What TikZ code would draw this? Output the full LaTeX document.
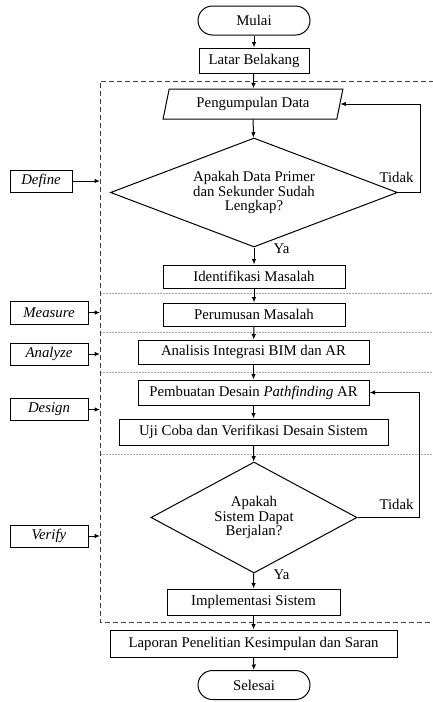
\documentclass[tikz,border=0pt]{standalone}
\usepackage{fontspec}
\setmainfont{Liberation Serif}
\usetikzlibrary{shapes.geometric,arrows.meta}
\begin{document}
\begin{tikzpicture}[x=1pt,y=-1pt,
  font=\fontsize{14.8}{14.5}\selectfont,
  box/.style={draw, line width=1pt, inner sep=0pt, align=center},
  term/.style={box, rounded corners=14.5pt, minimum width=112pt, minimum height=29pt},
  side/.style={box, minimum height=22pt, font=\fontsize{14.8}{14.5}\selectfont\itshape},
  dec/.style={draw, line width=1pt, diamond, inner sep=0pt, align=center},
  arr/.style={-{Latex[length=5.5pt,width=4.5pt]}, line width=1pt},
  sep/.style={gray!70, line width=0.7pt, dash pattern=on 1.6pt off 1.4pt},
  lab/.style={inner sep=0pt}]
\useasboundingbox (0,0) rectangle (432,702);

% phase separators
\coordinate (s1a) at (100,293); \coordinate (s1b) at (432,293);
\coordinate (s2a) at (100,332); \coordinate (s2b) at (432,332);
\coordinate (s3a) at (100,372); \coordinate (s3b) at (432,372);
\coordinate (s4a) at (100,454); \coordinate (s4b) at (432,454);
\draw[sep] (s1a) -- (s1b);
\draw[sep] (s2a) -- (s2b);
\draw[sep] (s3a) -- (s3b);
\draw[sep] (s4a) -- (s4b);

% outer dashed frame (its right side lies beyond the picture)
\coordinate (fTR) at (434,81); \coordinate (fTL) at (100,81);
\coordinate (fBL) at (100,622); \coordinate (fBR) at (434,622);
\draw[black!75, line width=1pt, dash pattern=on 5pt off 3pt] (fTR) -- (fTL) -- (fBL) -- (fBR);

% main flow
\node[term] (mulai) at (254,20.5) {Mulai};
\node[box, minimum width=110pt, minimum height=25pt] (lb) at (254,60.5) {Latar Belakang};
\node[draw, line width=1pt, trapezium, trapezium left angle=73, trapezium right angle=107,
      trapezium stretches=true, minimum width=180pt, minimum height=30pt, inner sep=0pt] (pd) at (253,104) {Pengumpulan Data};
\node[dec, aspect=2.63, minimum width=287pt, minimum height=109pt] (d1) at (254,192.5)
  {Apakah Data Primer\\dan Sekunder Sudah\\Lengkap?};
\node[box, minimum width=182pt, minimum height=23pt] (im) at (254,276.5) {Identifikasi Masalah};
\node[box, minimum width=182pt, minimum height=23pt] (pm) at (254,314.5) {Perumusan Masalah};
\node[box, minimum width=231pt, minimum height=24pt] (an) at (253.5,352) {Analisis Integrasi BIM dan AR};
\node[box, minimum width=231pt, minimum height=25pt] (pb) at (253.5,392.5) {Pembuatan Desain \textit{Pathfinding} AR};
\node[box, minimum width=269pt, minimum height=26pt] (uj) at (253.5,432) {Uji Coba dan Verifikasi Desain Sistem};
\node[dec, aspect=1.86, minimum width=206pt, minimum height=111pt] (d2) at (254,517.5)
  {Apakah\\Sistem Dapat\\Berjalan?};
\node[box, minimum width=173pt, minimum height=26pt] (is) at (253.5,602) {Implementasi Sistem};
\node[box, minimum width=287pt, minimum height=27pt] (lp) at (253.5,643.5) {Laporan Penelitian Kesimpulan dan Saran};
\node[term] (sel) at (254,685) {Selesai};

\draw[arr] (mulai) -- (lb);
\draw[arr] (lb) -- (pd);
\draw[arr] (pd) -- (d1);
\draw[arr] (d1) -- (im);
\draw[arr] (im) -- (pm);
\draw[arr] (pm) -- (an);
\draw[arr] (an) -- (pb);
\draw[arr] (pb) -- (uj);
\draw[arr] (uj) -- (d2);
\draw[arr] (d2) -- (is);
\draw[arr] (is) -- (lp);
\draw[arr] (lp) -- (sel);

% feedback loops
\draw[arr] (d1.east) -- ++(22,0) |- (pd.east);
\draw[arr] (d2.east) -- ++(62,0) |- (pb.east);

% branch labels
\node[lab] (t1) at (396.5,177) {Tidak};
\node[lab] (y1) at (281.5,249) {Ya};
\node[lab] (t2) at (396.5,504) {Tidak};
\node[lab] (y2) at (281.5,575) {Ya};

% phase labels
\node[side, minimum width=62pt] (def) at (41,181) {Define};
\node[side, minimum width=78pt, minimum height=23pt] (mea) at (49,312.5) {Measure};
\node[side, minimum width=78pt] (ana) at (49,354) {Analyze};
\node[side, minimum width=78pt] (des) at (49,409.5) {Design};
\node[side, minimum width=78pt] (ver) at (49,536) {Verify};
\coordinate (cdef) at (100,181);
\coordinate (cmea) at (100,312.5);
\coordinate (cana) at (100,354);
\coordinate (cdes) at (100,409.5);
\coordinate (cver) at (100,536);
\draw[arr] (def) -- (cdef);
\draw[arr] (mea) -- (cmea);
\draw[arr] (ana) -- (cana);
\draw[arr] (des) -- (cdes);
\draw[arr] (ver) -- (cver);
\end{tikzpicture}
\end{document}
